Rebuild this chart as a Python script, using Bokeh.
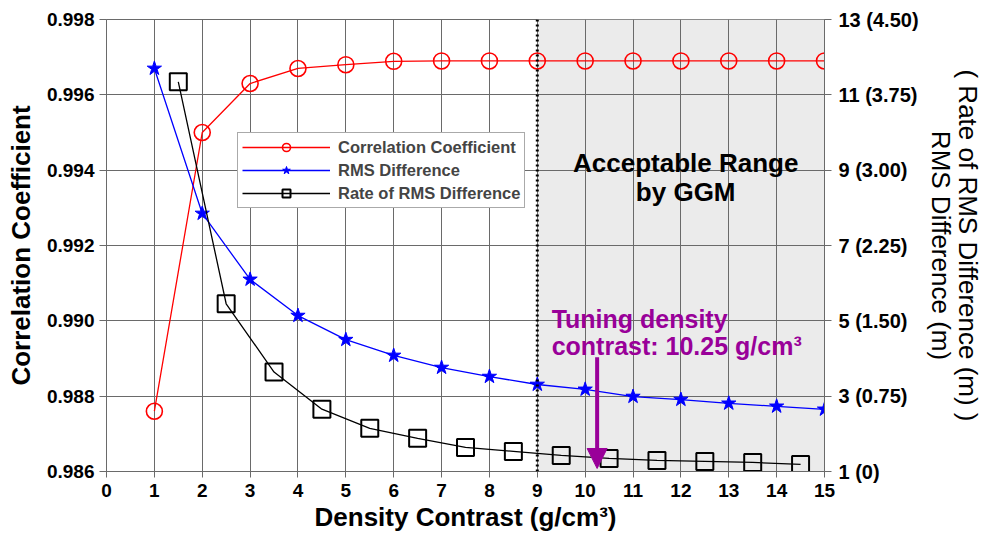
from bokeh.plotting import figure
from bokeh.models import (Range1d, LinearAxis, FixedTicker, BoxAnnotation, Span,
                          Arrow, NormalHead, Label, Legend, LegendItem,
                          PrintfTickFormatter)
from bokeh.embed import file_html
from bokeh.resources import INLINE

# ---- data -------------------------------------------------------------
density = [1, 2, 3, 4, 5, 6, 7, 8, 9, 10, 11, 12, 13, 14, 15]
correlation = [0.9876, 0.9950, 0.9963, 0.9967, 0.9968, 0.99689, 0.9969,
               0.9969, 0.9969, 0.9969, 0.9969, 0.9969, 0.9969, 0.9969, 0.9969]
rms_diff = [11.70, 7.85, 6.10, 5.14, 4.50, 4.08, 3.76, 3.52, 3.31, 3.18,
            2.99, 2.91, 2.81, 2.73, 2.65]
rate_x = [1.5, 2.5, 3.5, 4.5, 5.5, 6.5, 7.5, 8.5, 9.5, 10.5, 11.5, 12.5, 13.5, 14.5]
rate_rms = [3.88, 1.67, 0.99, 0.62, 0.43, 0.33, 0.24, 0.20, 0.16, 0.13,
            0.11, 0.10, 0.09, 0.07]

x_ticks = list(range(0, 16))
left_ticks = [0.986, 0.988, 0.990, 0.992, 0.994, 0.996, 0.998]
right_ticks = [1, 3, 5, 7, 9, 11, 13]
right_tick_labels = ["1 (0)", "3 (0.75)", "5 (1.50)", "7 (2.25)",
                     "9 (3.00)", "11 (3.75)", "13 (4.50)"]

acceptable_start = 9
acceptable_end = 15
tuning = 10.25

FONT = "Liberation Sans"
GRID = "#6a6a6a"
PURPLE = "#990099"

# ---- figure -----------------------------------------------------------
p = figure(width=985, height=538, output_backend="svg", toolbar_location=None,
           x_range=Range1d(0, 15), y_range=Range1d(0.986, 0.998),
           min_border_left=106, min_border_right=159,
           min_border_top=19, min_border_bottom=67,
           background_fill_color="white", border_fill_color="white")
p.outline_line_color = GRID
p.outline_line_width = 1

p.extra_y_ranges = {"rms": Range1d(1, 13), "rate": Range1d(0, 4.5)}

# grid
p.xgrid.ticker = FixedTicker(ticks=x_ticks)
p.ygrid.ticker = FixedTicker(ticks=left_ticks)
p.grid.grid_line_color = GRID
p.grid.grid_line_width = 1

# acceptable range shading and its boundary
p.add_layout(BoxAnnotation(left=acceptable_start, right=acceptable_end,
                           fill_color="#ebebeb", fill_alpha=1.0,
                           line_color=None, level="image"))
p.add_layout(Span(location=acceptable_start, dimension="height",
                  line_color="black", line_width=3, line_dash="2 3"))

# bottom axis
xa = p.xaxis[0]
xa.ticker = FixedTicker(ticks=x_ticks)
xa.axis_label = "Density Contrast (g/cm³)"

# left axis
ya = p.yaxis[0]
ya.ticker = FixedTicker(ticks=left_ticks)
ya.formatter = PrintfTickFormatter(format="%.3f")
ya.axis_label = "Correlation Coefficient"

# right axes
ax_rms = LinearAxis(y_range_name="rms", ticker=FixedTicker(ticks=right_ticks),
                    major_label_overrides=dict(zip(right_ticks, right_tick_labels)),
                    axis_label="RMS Difference (m)")
ax_rate = LinearAxis(y_range_name="rate", ticker=FixedTicker(ticks=[]),
                     axis_label="( Rate of RMS Difference (m) )",
                     axis_line_color=None, major_tick_line_color=None,
                     minor_tick_line_color=None, major_tick_out=0,
                     major_label_standoff=0, major_label_text_font_size="0px")
p.add_layout(ax_rms, "right")
p.add_layout(ax_rate, "right")

for ax in [xa, ya, ax_rms]:
    ax.axis_line_color = GRID
    ax.major_tick_line_color = GRID
    ax.minor_tick_line_color = None
    ax.major_tick_in = 0
    ax.major_tick_out = 7
    ax.major_label_text_font = FONT
    ax.major_label_text_font_style = "bold"
    ax.major_label_text_font_size = "19px"
    ax.major_label_text_color = "black"

ax_rms.major_label_text_font_size = "20px"

for ax in [xa, ya]:
    ax.axis_label_text_font = FONT
    ax.axis_label_text_font_style = "bold"
    ax.axis_label_text_font_size = "26px"
    ax.axis_label_text_color = "black"

for ax in [ax_rms, ax_rate]:
    ax.axis_label_text_font = FONT
    ax.axis_label_text_font_style = "normal"
    ax.axis_label_text_font_size = "26px"
    ax.axis_label_text_color = "black"

xa.major_tick_out = 6
xa.major_label_standoff = 6
xa.axis_label_standoff = 2
ya.major_label_standoff = 5
ya.axis_label_standoff = 8
ax_rms.major_label_standoff = 7
ax_rms.axis_label_standoff = 4
ax_rate.axis_label_standoff = -6

# ---- series -----------------------------------------------------------
r_corr_l = p.line(density, correlation, line_color="red", line_width=1.3)
r_corr_m = p.scatter(density, correlation, marker="circle", size=16,
                     line_color="red", line_width=1.6, fill_color=None)

r_rms_l = p.line(density, rms_diff, y_range_name="rms",
                 line_color="blue", line_width=1.3)
r_rms_m = p.scatter(density, rms_diff, y_range_name="rms", marker="star",
                    size=15, line_color="blue", fill_color="blue")

r_rate_l = p.line(rate_x, rate_rms, y_range_name="rate",
                  line_color="black", line_width=1.3)
r_rate_m = p.scatter(rate_x, rate_rms, y_range_name="rate", marker="square",
                     size=17, line_color="black", line_width=2, fill_color=None)

# ---- annotations ------------------------------------------------------
p.add_layout(Label(x=12.1, y=0.99418, text="Acceptable Range",
                   text_align="center", text_baseline="alphabetic",
                   text_font=FONT, text_font_style="bold",
                   text_font_size="26px", text_color="black"))
p.add_layout(Label(x=12.1, y=0.99341, text="by GGM",
                   text_align="center", text_baseline="alphabetic",
                   text_font=FONT, text_font_style="bold",
                   text_font_size="26px", text_color="black"))

p.add_layout(Label(x=9.3, y=0.99004, text="Tuning density",
                   text_align="left", text_baseline="alphabetic",
                   text_font=FONT, text_font_style="bold",
                   text_font_size="25px", text_color=PURPLE))
p.add_layout(Label(x=9.3, y=0.98932, text=f"contrast: {tuning} g/cm³",
                   text_align="left", text_baseline="alphabetic",
                   text_font=FONT, text_font_style="bold",
                   text_font_size="25px", text_color=PURPLE))

p.add_layout(Arrow(x_start=tuning, y_start=0.98903, x_end=tuning, y_end=0.98608,
                   line_color=PURPLE, line_width=4,
                   end=NormalHead(size=20, fill_color=PURPLE,
                                  line_color=PURPLE, line_width=1)))

# ---- legend -----------------------------------------------------------
legend = Legend(items=[
    LegendItem(label="Correlation Coefficient", renderers=[r_corr_l, r_corr_m]),
    LegendItem(label="RMS Difference", renderers=[r_rms_l, r_rms_m]),
    LegendItem(label="Rate of RMS Difference", renderers=[r_rate_l, r_rate_m]),
], location=(131, 263))
legend.glyph_width = 88
legend.glyph_height = 20
legend.label_height = 20
legend.spacing = 3
legend.padding = 4
legend.margin = 0
legend.label_standoff = 8
legend.label_text_font = FONT
legend.label_text_font_style = "bold"
legend.label_text_font_size = "16.5px"
legend.border_line_color = "#555555"
legend.border_line_width = 1.5
legend.background_fill_color = "white"
legend.background_fill_alpha = 1.0
p.add_layout(legend, "center")

open("out.html", "w").write(file_html(p, INLINE))
